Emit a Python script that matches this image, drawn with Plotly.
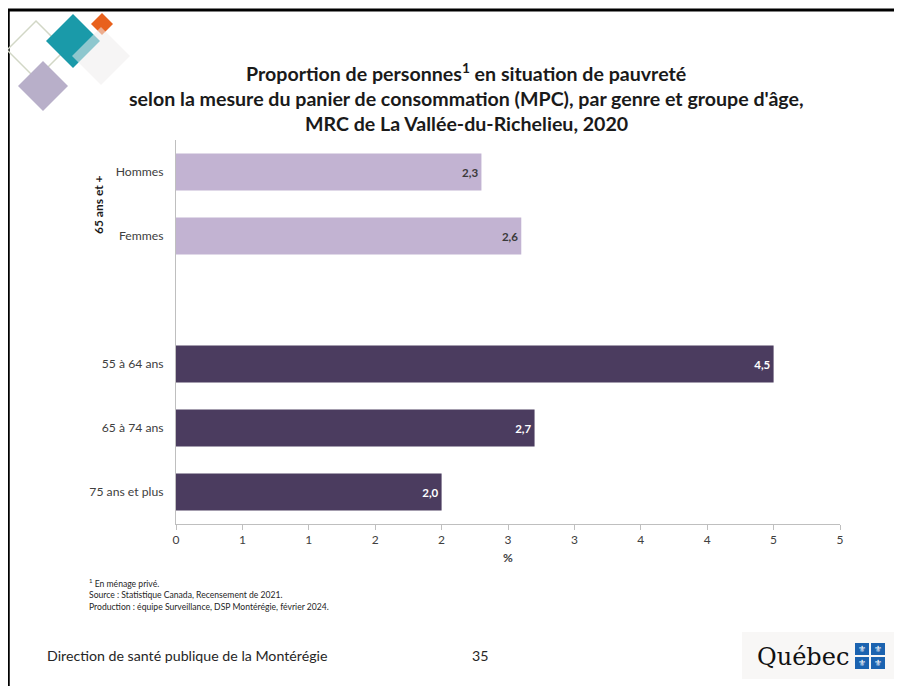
import plotly.graph_objects as go

# ---- data ----
group_label = "65 ans et +"
genre_cats = ["Hommes", "Femmes"]
genre_vals = [2.3, 2.6]
age_cats = ["55 à 64 ans", "65 à 74 ans", "75 ans et plus"]
age_vals = [4.5, 2.7, 2.0]
cat_order = ["Hommes", "Femmes", " ", "55 à 64 ans", "65 à 74 ans", "75 ans et plus"]
x_tickvals = [0, 0.5, 1, 1.5, 2, 2.5, 3, 3.5, 4, 4.5, 5]
x_ticktext = ["0", "1", "1", "2", "2", "3", "3", "4", "4", "5", "5"]

title_lines = [
    "Proportion de personnes<sup>1</sup> en situation de pauvreté",
    "selon la mesure du panier de consommation (MPC), par genre et groupe d'âge,",
    "MRC de La Vallée-du-Richelieu, 2020",
]
notes = [
    "<sup>1</sup> En ménage privé.",
    "Source : Statistique Canada, Recensement de 2021.",
    "Production : équipe Surveillance, DSP Montérégie, février 2024.",
]

FONT = "Lato"
OFF = 8  # page body margin
W, H = 902 - OFF, 686 - OFF
L, R, T, B = 176 - OFF, 902 - 840, 140 - OFF, 686 - 524
PW, PH = W - L - R, H - T - B


def px(x):
    return (x - OFF - L) / PW


def py(y):
    return 1 - (y - OFF - T) / PH


def fmt(v):
    return f"{v:.1f}".replace(".", ",")


fig = go.Figure()
fig.add_trace(go.Bar(
    y=genre_cats, x=genre_vals, orientation="h",
    marker=dict(color="#c2b3d2", line=dict(width=0)),
    text=[fmt(v) for v in genre_vals], textposition="inside",
    insidetextanchor="end",
    textfont=dict(family=FONT, size=11.5, color="#3a3a3a", weight="bold"),
    hoverinfo="skip",
))
fig.add_trace(go.Bar(
    y=age_cats, x=age_vals, orientation="h",
    marker=dict(color="#4b3c5f", line=dict(width=0)),
    text=[fmt(v) for v in age_vals], textposition="inside",
    insidetextanchor="end",
    textfont=dict(family=FONT, size=11.5, color="white", weight="bold"),
    hoverinfo="skip",
))

fig.update_layout(
    width=W, height=H,
    margin=dict(l=L, r=R, t=T, b=B, autoexpand=False),
    paper_bgcolor="white", plot_bgcolor="white",
    barmode="overlay", bargap=0.42, showlegend=False,
    font=dict(family=FONT, color="#404040"),
    xaxis=dict(
        range=[0, 5], tickvals=x_tickvals, ticktext=x_ticktext,
        showgrid=False, zeroline=False, showline=True, linecolor="#bfbfbf",
        linewidth=1, ticks="outside", ticklen=5, tickcolor="#bfbfbf",
        tickfont=dict(size=12, color="#404040"),
        title=dict(text="<b>%</b>", font=dict(size=12, color="#404040"), standoff=7),
    ),
    yaxis=dict(
        categoryorder="array", categoryarray=cat_order, autorange="reversed",
        showgrid=False, zeroline=False, showline=True, linecolor="#bfbfbf",
        linewidth=1, ticks="", ticklabelstandoff=9,
        tickfont=dict(size=12.2, color="#404040"),
    ),
)

ann = []
ys = [72, 98, 124]
for t, yy in zip(title_lines, ys):
    ann.append(dict(text=f"<b>{t}</b>", x=px(466), y=py(yy), xref="paper", yref="paper",
                    xanchor="center", yanchor="middle", showarrow=False,
                    font=dict(family=FONT, size=19.6, color="#1a1a1a")))
ann.append(dict(text=f"<b>{group_label}</b>", x=px(98), y=py(205), xref="paper", yref="paper",
                xanchor="center", yanchor="middle", showarrow=False, textangle=-90,
                font=dict(family=FONT, size=12, color="#1a1a1a")))
for t, yy in zip(notes, [583, 595, 607]):
    ann.append(dict(text=t, x=px(87), y=py(yy), xref="paper", yref="paper",
                    xanchor="left", yanchor="middle", showarrow=False,
                    font=dict(family=FONT, size=8.6, color="#262626")))
ann.append(dict(text="Direction de santé publique de la Montérégie", x=px(45), y=py(655),
                xref="paper", yref="paper", xanchor="left", yanchor="middle", showarrow=False,
                font=dict(family=FONT, size=14.2, color="#262626")))
ann.append(dict(text="35", x=px(480), y=py(655), xref="paper", yref="paper",
                xanchor="center", yanchor="middle", showarrow=False,
                font=dict(family=FONT, size=14.2, color="#262626")))
ann.append(dict(text="Québec", x=px(851), y=py(657), xref="paper", yref="paper",
                xanchor="right", yanchor="middle", showarrow=False,
                font=dict(family="DejaVu Serif", size=24, color="#111111")))
squares = [(862, 649), (878, 649), (862, 663), (878, 663)]
for cx, cy in squares:
    ann.append(dict(text="⚜", x=px(cx), y=py(cy), xref="paper", yref="paper",
                    xanchor="center", yanchor="middle", showarrow=False,
                    font=dict(family="DejaVu Sans", size=9, color="white")))

shapes = []


def diamond(cx, cy, h, fill, line=None):
    path = (f"M {px(cx)},{py(cy - h)} L {px(cx + h)},{py(cy)} "
            f"L {px(cx)},{py(cy + h)} L {px(cx - h)},{py(cy)} Z")
    return dict(type="path", path=path, xref="paper", yref="paper",
                fillcolor=fill,
                line=dict(color=line or "rgba(0,0,0,0)", width=1.5 if line else 0))


# frame
shapes.append(dict(type="line", xref="paper", yref="paper", x0=px(8), x1=px(902),
                   y0=py(10), y1=py(10), line=dict(color="black", width=3)))
shapes.append(dict(type="line", xref="paper", yref="paper", x0=px(8.5), x1=px(8.5),
                   y0=py(10), y1=py(686), line=dict(color="black", width=2.5)))
# decorative diamonds
shapes.append(diamond(36, 50, 29, "rgba(0,0,0,0)", line="#d2d7c6"))
shapes.append(diamond(73, 41, 27, "#1a9aa9"))
shapes.append(diamond(102, 24, 11, "#e8611d"))
shapes.append(diamond(101, 56, 29, "rgba(238,236,236,0.55)"))
shapes.append(diamond(43, 86, 25, "#b8afc9"))
# Quebec logo background and blue squares
shapes.append(dict(type="rect", xref="paper", yref="paper", x0=px(742), x1=px(899),
                   y0=py(632), y1=py(679), fillcolor="#f8f7f6", line=dict(width=0), layer="below"))
for cx, cy in squares:
    shapes.append(dict(type="rect", xref="paper", yref="paper", x0=px(cx - 7), x1=px(cx + 7),
                       y0=py(cy - 6), y1=py(cy + 6), fillcolor="#1b63b0", line=dict(width=0)))

fig.update_layout(annotations=ann, shapes=shapes)
fig.write_html("out.html")
